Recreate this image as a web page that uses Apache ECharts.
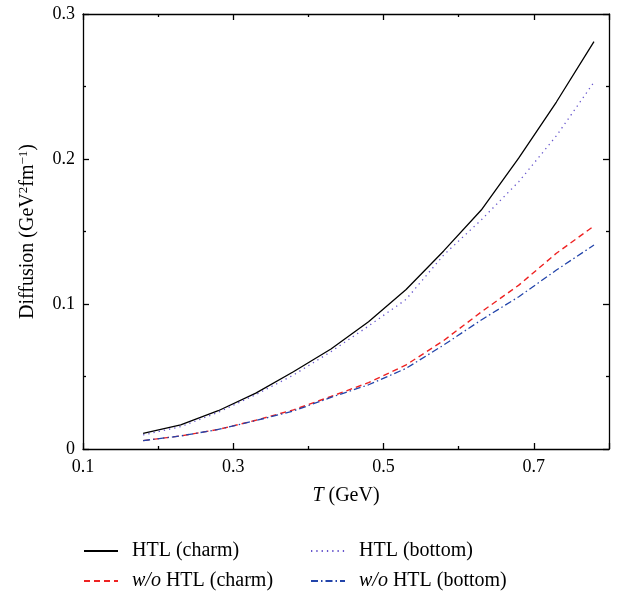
<!DOCTYPE html>
<html><head><meta charset="utf-8">
<script src="https://cdn.jsdelivr.net/npm/echarts@6/dist/echarts.min.js"></script>
<style>html,body{margin:0;padding:0;background:#fff}#c{width:623px;height:597px}</style>
</head><body><div id="c"></div>
<script>
const temps = [0.18,0.23,0.28,0.33,0.38,0.43,0.48,0.53,0.58,0.63,0.68,0.73,0.78];
const htlCharm = [0.0108,0.0166,0.0264,0.0385,0.0533,0.069,0.0878,0.110,0.1366,0.1648,0.2007,0.2393,0.281];
const htlBottom = [0.0097,0.0154,0.0253,0.0375,0.051,0.0671,0.0848,0.1032,0.1338,0.158,0.1844,0.216,0.253];
const woCharm = [0.0058,0.009,0.0135,0.0198,0.027,0.0362,0.0458,0.058,0.0748,0.0945,0.113,0.135,0.1538];
const woBottom = [0.0058,0.009,0.0135,0.0196,0.0262,0.0356,0.0443,0.0556,0.0717,0.089,0.105,0.1234,0.1407];
const names = ['HTL (charm)','w/o HTL (charm)','HTL (bottom)','w/o HTL (bottom)'];

const F = 'Liberation Serif';
const pair = (ys) => temps.map((t,i)=>[t,ys[i]]);
const chart = echarts.init(document.getElementById('c'));
const axisCommon = {
  axisLine:{show:true,onZero:false,lineStyle:{color:'#000',width:1.3}},
  axisTick:{show:true,inside:true,length:6,lineStyle:{color:'#000',width:1.3}},
  minorTick:{show:true,splitNumber:2,length:3,lineStyle:{color:'#000',width:1.3}},
  splitLine:{show:false}
};
const legendFmt = (n)=> n.startsWith('w/o') ? '{i|w/o}' + n.slice(3) : n;
const legendText = {fontFamily:F,fontSize:20,color:'#000',padding:[0,0,0,9],
  rich:{i:{fontFamily:F,fontStyle:'italic',fontSize:20,color:'#000'}}};
const legendCommon = {orient:'vertical',top:541,itemWidth:34,itemHeight:12,itemGap:10,padding:0,
  itemStyle:{color:'rgba(0,0,0,0)',borderWidth:0,opacity:0},formatter:legendFmt,textStyle:legendText};
chart.setOption({
  animation:false,
  grid:{left:83,right:14,top:14,bottom:148},
  xAxis:[
    Object.assign({type:'value',min:0.1,max:0.8,interval:0.2,position:'bottom',
      axisLabel:{fontFamily:F,fontSize:18,color:'#000',margin:9,formatter:v=>v>0.75?'':v.toFixed(1)},
      name:'{i|T} (GeV)',nameLocation:'middle',nameGap:37,
      nameTextStyle:{fontFamily:F,fontSize:20,color:'#000',rich:{i:{fontFamily:F,fontStyle:'italic',fontSize:20,color:'#000'}}}
    },axisCommon),
    Object.assign({type:'value',min:0.1,max:0.8,interval:0.2,position:'top',axisLabel:{show:false}},axisCommon)
  ],
  yAxis:[
    Object.assign({type:'value',min:0,max:0.3,interval:0.1,position:'left',
      axisLabel:{fontFamily:F,fontSize:18,color:'#000',margin:8,formatter:v=>v===0?'0':v.toFixed(1)},
      name:'Diffusion (GeV{s|2}fm{s|−1})',nameLocation:'middle',nameGap:44,
      nameTextStyle:{fontFamily:F,fontSize:20,color:'#000',rich:{s:{fontFamily:F,fontSize:13,color:'#000',verticalAlign:'top',padding:[0,0,9,0]}}}
    },axisCommon),
    Object.assign({type:'value',min:0,max:0.3,interval:0.1,position:'right',axisLabel:{show:false}},axisCommon)
  ],
  legend:[
    Object.assign({data:[names[0],names[1]],left:83},legendCommon),
    Object.assign({data:[names[2],names[3]],left:310},legendCommon)
  ],
  series:[
    {name:names[0],type:'line',data:pair(htlCharm),symbol:'none',lineStyle:{color:'#000',width:1.3,type:'solid'},itemStyle:{color:'#000'}},
    {name:names[1],type:'line',data:pair(woCharm),symbol:'none',lineStyle:{color:'#ee2222',width:1.4,type:[6,4]},itemStyle:{color:'#ee2222'}},
    {name:names[2],type:'line',data:pair(htlBottom),symbol:'none',lineStyle:{color:'#6655cc',width:1.3,type:[1.3,4]},itemStyle:{color:'#6655cc'}},
    {name:names[3],type:'line',data:pair(woBottom),symbol:'none',lineStyle:{color:'#2244aa',width:1.3,type:[7,3,1.5,3]},itemStyle:{color:'#2244aa'}}
  ]
});
</script></body></html>
